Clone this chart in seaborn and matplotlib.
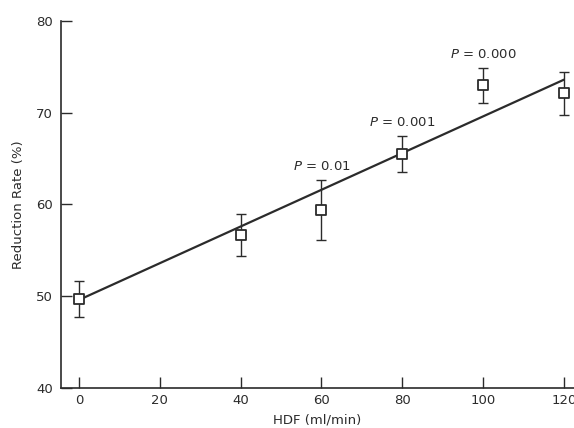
import numpy as np
import matplotlib
matplotlib.use("Agg")
import matplotlib.pyplot as plt
import pandas as pd
import seaborn as sns

# values
hdf = [0, 40, 60, 80, 100, 120]
reduction = [49.7, 56.7, 59.4, 65.5, 73.0, 72.1]
sd = [2.0, 2.3, 3.3, 2.0, 1.9, 2.3]
fit_x = [0, 120]
fit_y = [49.6, 73.6]
p_hdf = [60, 80, 100]
p_vals = ["0.01", "0.001", "0.000"]

df = pd.DataFrame({"hdf": hdf, "rr": reduction, "sd": sd})
ink = "#2b2b2b"

sns.set_style("ticks")
plt.rcParams["font.family"] = ["DejaVu Sans"]
plt.rcParams["font.size"] = 9.5

fig = plt.figure(figsize=(5.74, 4.28), dpi=100)
ax = fig.add_axes([0.1063, 0.0935, 0.8937, 0.8575])

sns.lineplot(x=fit_x, y=fit_y, ax=ax, color=ink, lw=1.6, zorder=2)
ax.errorbar(df["hdf"], df["rr"], yerr=df["sd"], fmt="none", ecolor=ink,
            elinewidth=1.0, capsize=3.5, capthick=1.0, zorder=3)
sns.scatterplot(data=df, x="hdf", y="rr", ax=ax, marker="s", s=55,
                facecolor="white", edgecolor=ink, linewidth=1.3, zorder=4)

# significance labels above the error bars
for x, p in zip(p_hdf, p_vals):
    i = hdf.index(x)
    ax.annotate("$P$ = " + p, (x, reduction[i] + sd[i]), xytext=(0, 5),
                textcoords="offset points", ha="center", va="bottom", color=ink)

ax.set_xlim(-4.45, 122.5)
ax.set_ylim(40, 80)
ax.set_xticks([0, 20, 40, 60, 80, 100, 120])
ax.set_yticks([40, 50, 60, 70, 80])
ax.tick_params(direction="in", length=8, width=1.0, color=ink, labelcolor=ink,
               pad=4)
ax.tick_params(axis="y", pad=6)
for s in ["top", "right"]:
    ax.spines[s].set_visible(False)
for s in ["left", "bottom"]:
    ax.spines[s].set_color(ink)
    ax.spines[s].set_linewidth(1.2)
ax.set_xlabel("HDF (ml/min)", color=ink, labelpad=5)
ax.set_ylabel("Reduction Rate (%)", color=ink, labelpad=8)

fig.savefig("out.png", dpi=100)
